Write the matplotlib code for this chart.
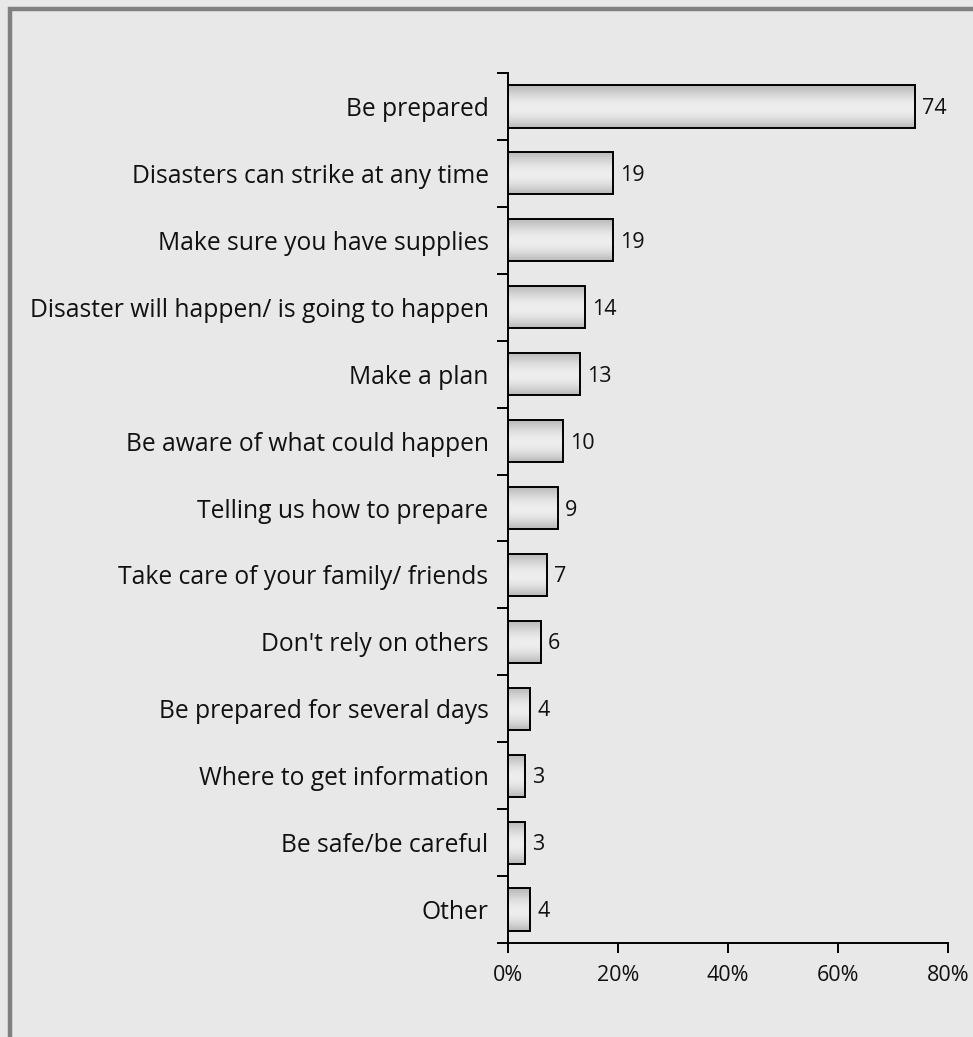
import numpy as np
import matplotlib.pyplot as plt
from matplotlib.patches import Rectangle
from matplotlib.ticker import FuncFormatter

categories = ['Be prepared', 'Disasters can strike at any time', 'Make sure you have supplies',
              'Disaster will happen/ is going to happen', 'Make a plan',
              'Be aware of what could happen', 'Telling us how to prepare',
              'Take care of your family/ friends', "Don't rely on others",
              'Be prepared for several days', 'Where to get information',
              'Be safe/be careful', 'Other']
values = [74, 19, 19, 14, 13, 10, 9, 7, 6, 4, 3, 3, 4]
xticks = [0, 20, 40, 60, 80]

plt.rcParams['font.family'] = ['Open Sans', 'DejaVu Sans']

bg = '#e8e8e8'
fig = plt.figure(figsize=(9.73, 10.37), dpi=100, facecolor=bg)
ax = fig.add_axes([508/973, 1 - 943/1037, 440/973, 870/1037])
ax.set_facecolor(bg)

# outer frame (only the top and left edges fall inside the image)
fig.add_artist(Rectangle((9.5/973, -0.1), 1.2, 1.1 - 9/1037, transform=fig.transFigure,
                         fill=False, edgecolor='#808080', linewidth=3.2, clip_on=False))

n = len(categories)
ypos = np.arange(n)
h = 0.63

# vertical shading: darker at top and bottom edges, light in the middle
t = np.linspace(0, 1, 64)
shade = 0.72 + 0.21 * np.sin(np.pi * t ** 1.1)
grad = np.repeat(shade[:, None], 2, axis=1)

bars = ax.barh(ypos, values, height=h, color='none', edgecolor='black', linewidth=1.4, zorder=3)
for bar, v in zip(bars, values):
    x0, y0 = bar.get_x(), bar.get_y()
    w, hh = bar.get_width(), bar.get_height()
    im = ax.imshow(grad, extent=[x0, x0 + w, y0 + hh, y0], aspect='auto', cmap='gray',
                   vmin=0, vmax=1, interpolation='bilinear', zorder=2)
    im.set_clip_path(bar)
    ax.text(x0 + w + 1.3, y0 + hh / 2 + 0.03, str(v), va='center', ha='left', fontsize=15.5,
            color='#111111')

ax.set_xlim(0, 80)
ax.set_ylim(n - 0.5, -0.5)
ax.set_xticks(xticks)
ax.xaxis.set_major_formatter(FuncFormatter(lambda x, p: f'{int(x)}%'))
ax.set_yticks(np.arange(-0.5, n, 1.0))
ax.set_yticklabels([])
ax.set_yticks(ypos, minor=True)
ax.set_yticklabels(categories, minor=True, fontsize=17.7, color='#111111')
ax.tick_params(axis='y', which='minor', length=0, pad=14)
ax.tick_params(axis='y', which='major', length=8, width=1.4, direction='out')
ax.tick_params(axis='x', length=7, width=1.4, direction='out', labelsize=15.5, pad=9,
               labelcolor='#111111')

for side in ['top', 'right']:
    ax.spines[side].set_visible(False)
for side in ['left', 'bottom']:
    ax.spines[side].set_linewidth(1.4)

fig.savefig('out.png', dpi=100, facecolor=bg)
